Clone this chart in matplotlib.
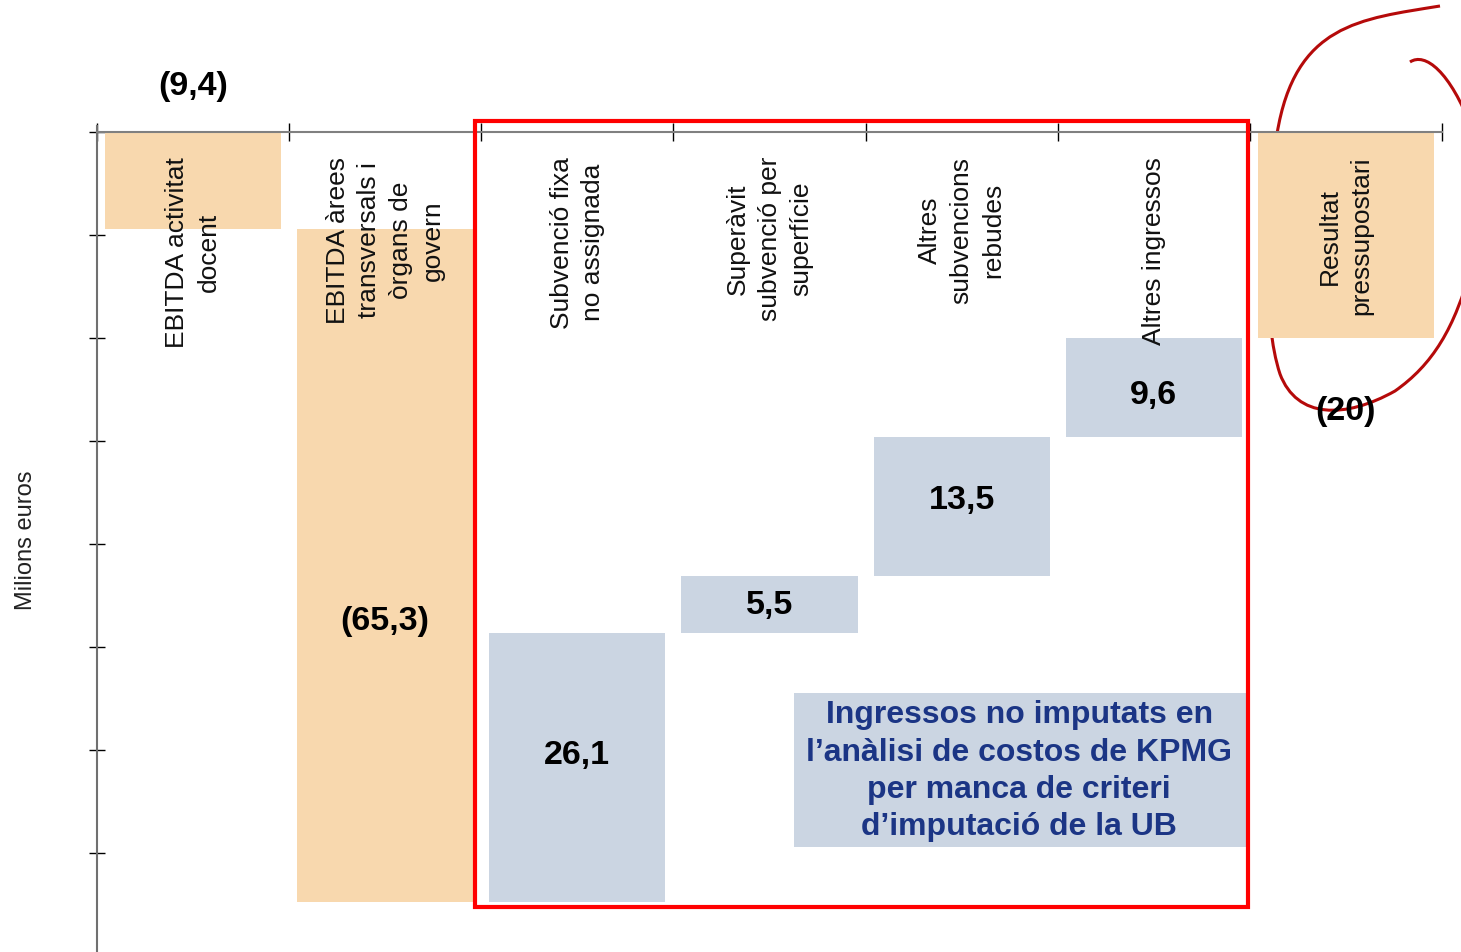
import numpy as np
import matplotlib
matplotlib.use("Agg")
import matplotlib.pyplot as plt
from matplotlib.patches import Rectangle, PathPatch
from matplotlib.path import Path

# data (milions d'euros)
categories = [
    "EBITDA activitat\ndocent",
    "EBITDA àrees\ntransversals i\nòrgans de\ngovern",
    "Subvenció fixa\nno assignada",
    "Superàvit\nsubvenció per\nsuperfície",
    "Altres\nsubvencions\nrebudes",
    "Altres ingressos",
    "Resultat\npressupostari",
]
steps = [-9.4, -65.3, 26.1, 5.5, 13.5, 9.6]
bar_kind = ["cost", "cost", "income", "income", "income", "income", "total"]
y_ticks = [0, -10, -20, -30, -40, -50, -60, -70]
box_text = "Ingressos no imputats en\nl’anàlisi de costos de KPMG\nper manca de criteri\nd’imputació de la UB"

ORANGE = "#F8D8AE"
BLUE = "#CBD5E2"
NAVY = "#1B3585"

plt.rcParams['font.family'] = ['Liberation Sans', 'DejaVu Sans']

W, H = 1461, 953
fig = plt.figure(figsize=(W / 100, H / 100), dpi=100)
ax = fig.add_axes([97 / W, 0, (1442 - 97) / W, (H - 127) / H])

# waterfall bottoms / heights
ends = np.cumsum(steps)
starts = np.concatenate([[0], ends[:-1]])
total = ends[-1]
bottoms = list(np.minimum(starts, ends)) + [min(0, total)]
heights = list(np.abs(steps)) + [abs(total)]
values = list(steps) + [total]
x = np.arange(len(categories))
colors = [BLUE if k == "income" else ORANGE for k in bar_kind]

ax.bar(x, heights, bottom=bottoms, width=0.917, color=colors, zorder=2)


def fmt(v):
    a = abs(v)
    s = f"{a:.0f}" if abs(a - round(a)) < 1e-9 else f"{a:.1f}".replace(".", ",")
    return f"({s})" if v < 0 else s


# value labels
label_shift = [0, -5.4, 1.2, 0, 0.7, -0.7, 0]
for i, v in enumerate(values):
    if i == 0:
        y = 4.5
    elif i == len(values) - 1:
        y = total - 7.0
    else:
        y = bottoms[i] + heights[i] / 2 + label_shift[i]
    ax.text(i, y, fmt(v), ha="center", va="center", fontsize=24.5,
            fontweight="bold", color="black", zorder=5, clip_on=False)

# category labels (rotated, inside the plot)
for i, c in enumerate(categories):
    ax.text(i, -2.3, c, rotation=90, ha="center", va="top",
            multialignment="center", fontsize=19, linespacing=1.4,
            color="#111111", zorder=4)

# axes styling
ax.set_xlim(-0.5, len(categories) - 0.5)
ax.set_ylim(-79.6, 0.6)
ax.spines['top'].set_visible(False)
ax.spines['right'].set_visible(False)
ax.spines['bottom'].set_position(('data', 0))
ax.spines['bottom'].set_color("#808080")
ax.spines['bottom'].set_linewidth(1.5)
ax.spines['left'].set_color("#707070")
ax.spines['left'].set_linewidth(1.5)
ax.set_xticks(np.arange(len(categories) + 1) - 0.5)
ax.set_yticks(y_ticks)
ax.tick_params(axis='x', direction='inout', length=13, width=1.0,
               color='black', labelbottom=False)
ax.tick_params(axis='y', direction='inout', length=11, width=1.0,
               color='black', labelleft=False)
ax.set_ylabel("Milions euros", fontsize=17, labelpad=38, color="#222222")

# annotation box with note
ax.add_patch(Rectangle((3.128, -69.4), 2.352, 14.9, facecolor=BLUE,
                       edgecolor="none", zorder=3))
ax.text(4.30, -61.95, box_text, ha="center", va="center", fontsize=23,
        fontweight="bold", color=NAVY, linespacing=1.32, zorder=5)

# red frame round the income bars
ax.add_patch(Rectangle((1.467, -75.2), 4.023, 76.3, facecolor="none",
                       edgecolor="#FF0000", linewidth=3.0, zorder=6,
                       clip_on=False))


# hand drawn circle round the result (pixel coords -> figure fraction)
def px(pts):
    return [(xx / W, 1 - yy / H) for xx, yy in pts]


loop_pts = [(1440, 7), (1360, 20), (1295, 25), (1277, 135),
            (1268, 230), (1262, 320), (1280, 375),
            (1297, 420), (1345, 420), (1395, 392),
            (1432, 366), (1455, 330), (1472, 265)]
loop_codes = [Path.MOVETO] + [Path.CURVE4] * 12
hook_pts = [(1410, 63), (1425, 53), (1450, 72), (1472, 130)]
hook_codes = [Path.MOVETO] + [Path.CURVE4] * 3
for pts, codes in [(loop_pts, loop_codes), (hook_pts, hook_codes)]:
    patch = PathPatch(Path(px(pts), codes), facecolor="none",
                      edgecolor="#B50A0A", linewidth=2.2,
                      transform=fig.transFigure, zorder=-1)
    # drawn under the axes so the result bar covers it
    fig.patches.append(patch)

ax.set_facecolor("none")
fig.savefig("out.png", dpi=100)
